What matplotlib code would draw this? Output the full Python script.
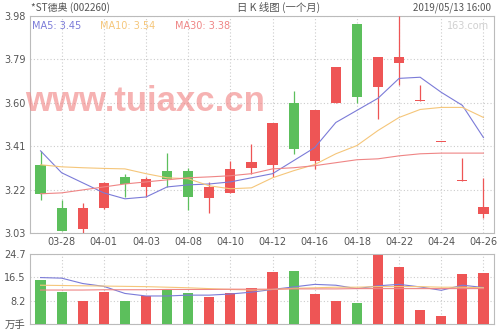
import matplotlib
matplotlib.use("Agg")
import matplotlib.pyplot as plt
import numpy as np

# === DATA ===
dates = ["03-27", "03-28", "03-29", "04-01", "04-02", "04-03", "04-04", "04-08",
         "04-09", "04-10", "04-11", "04-12", "04-15", "04-16", "04-17", "04-18",
         "04-19", "04-22", "04-23", "04-24", "04-25", "04-26"]

opens  = [3.33, 3.14, 3.05, 3.14, 3.275, 3.23, 3.30, 3.30, 3.185, 3.205, 3.315,
          3.33, 3.60, 3.345, 3.60, 3.945, 3.67, 3.775, 3.61, 3.43, 3.26, 3.115]
closes = [3.20, 3.04, 3.14, 3.25, 3.245, 3.265, 3.265, 3.19, 3.23, 3.31, 3.34,
          3.51, 3.40, 3.57, 3.755, 3.625, 3.80, 3.80, 3.61, 3.43, 3.26, 3.145]
highs  = [3.39, 3.175, 3.16, 3.255, 3.29, 3.275, 3.38, 3.315, 3.255, 3.345, 3.42,
          3.51, 3.65, 3.57, 3.755, 3.945, 3.80, 3.98, 3.68, 3.43, 3.36, 3.27]
lows   = [3.175, 3.04, 3.03, 3.135, 3.19, 3.19, 3.23, 3.13, 3.12, 3.205, 3.29,
          3.275, 3.375, 3.31, 3.60, 3.60, 3.53, 3.68, 3.61, 3.43, 3.26, 3.095]

ma5  = [3.39, 3.294, 3.25, 3.206, 3.18, 3.188, 3.232, 3.241, 3.245, 3.254, 3.272,
        3.29, 3.347, 3.404, 3.514, 3.567, 3.62, 3.707, 3.712, 3.646, 3.589, 3.448]
ma10 = [3.329, 3.32, 3.316, 3.313, 3.311, 3.29, 3.272, 3.268, 3.237, 3.224, 3.228,
        3.272, 3.303, 3.33, 3.377, 3.413, 3.479, 3.536, 3.571, 3.58, 3.58, 3.536]
ma30 = [3.202, 3.206, 3.219, 3.232, 3.245, 3.254, 3.263, 3.272, 3.276, 3.281, 3.29,
        3.311, 3.316, 3.325, 3.338, 3.351, 3.355, 3.368, 3.377, 3.38, 3.38, 3.38]

volumes = [15.7, 11.2, 8.0, 11.2, 8.2, 9.9, 12.5, 10.8, 9.5, 10.8, 12.6,
           18.2, 18.6, 10.6, 8.0, 7.3, 24.5, 20.3, 4.8, 2.8, 17.6, 18.0]
vol_ma5  = [16.4, 16.2, 14.3, 13.3, 10.8, 9.9, 9.9, 10.2, 10.2, 10.6, 11.25,
            12.2, 13.1, 14.0, 13.7, 12.5, 13.5, 14.0, 13.1, 11.9, 13.7, 12.9]
vol_ma10 = [13.7, 13.6, 13.5, 13.4, 13.3, 13.2, 13.0, 12.8, 12.5, 12.2, 12.0,
            12.2, 12.6, 12.8, 13.0, 13.0, 13.2, 13.2, 13.2, 13.0, 13.0, 12.8]
vol_ma30 = [12.0, 12.0, 12.0, 12.1, 12.1, 12.1, 12.2, 12.2, 12.2, 12.3, 12.3,
            12.3, 12.4, 12.4, 12.4, 12.5, 12.5, 12.5, 12.5, 12.5, 12.5, 12.5]

price_ticks = [3.03, 3.22, 3.41, 3.60, 3.79, 3.98]
vol_ticks = [0, 8.2, 16.5, 24.7]
vol_tick_labels = ["万手", "8.2", "16.5", "24.7"]

# === STYLE ===
RED = "#ee5555"
GREEN = "#5cbf5c"
C_MA5 = "#7b7bd8"
C_MA10 = "#f5c67a"
C_MA30 = "#ef8585"
BORDER = "#bbbbbb"
GRID = "#cccccc"
TXT = "#555555"
CJK = ["Noto Sans CJK SC", "DejaVu Sans"]

plt.rcParams["font.family"] = ["DejaVu Sans", "Noto Sans CJK SC"]

fig = plt.figure(figsize=(5, 3.33), dpi=100)
ax = fig.add_axes([0.06, 0.30, 0.928, 0.652])
axv = fig.add_axes([0.06, 0.027, 0.928, 0.21])

x = np.arange(len(dates))
up = np.array(closes) >= np.array(opens)
colors = [RED if u else GREEN for u in up]

# === CANDLES ===
ax.vlines(x, lows, highs, colors=colors, linewidth=0.9, zorder=3)
body_bottom = np.minimum(opens, closes)
body_h = np.maximum(np.abs(np.array(closes) - np.array(opens)), 0.004)
ax.bar(x, body_h, bottom=body_bottom, width=0.48, color=colors, zorder=4)

ax.plot(x, ma5, color=C_MA5, lw=0.8, zorder=5)
ax.plot(x, ma10, color=C_MA10, lw=0.8, zorder=5)
ax.plot(x, ma30, color=C_MA30, lw=0.8, zorder=5)

ax.set_xlim(-0.5, len(dates) - 0.5)
ax.set_ylim(price_ticks[0], price_ticks[-1])
ax.set_yticks(price_ticks)
ax.set_yticklabels([f"{t:.2f}" for t in price_ticks])
ax.set_xticks(x[1::2])
ax.set_xticklabels(dates[1::2])

# === VOLUME ===
axv.bar(x, volumes, width=0.48, color=colors, zorder=3)
axv.plot(x, vol_ma5, color=C_MA5, lw=0.8, zorder=4)
axv.plot(x, vol_ma10, color=C_MA10, lw=0.8, zorder=4)
axv.plot(x, vol_ma30, color=C_MA30, lw=0.8, zorder=4)
axv.set_xlim(-0.5, len(dates) - 0.5)
axv.set_ylim(0, vol_ticks[-1])
axv.set_yticks(vol_ticks)
axv.set_yticklabels(vol_tick_labels)
axv.set_xticks(x[1::2])
axv.set_xticklabels([])

for a in (ax, axv):
    for s in a.spines.values():
        s.set_color(BORDER)
        s.set_linewidth(0.8)
    a.tick_params(length=0, labelsize=7, colors=TXT, pad=3)
    a.grid(True, linestyle=(0, (1, 2)), color=GRID, linewidth=0.8, zorder=0)
    a.set_axisbelow(True)

axv.get_yticklabels()[0].set_fontfamily(CJK)
axv.get_yticklabels()[0].set_fontsize(7.5)

# === HEADER TEXT ===
fig.text(0.062, 0.978, "*ST德奥 (002260)", fontsize=7.2, color=TXT, family=CJK,
         ha="left", va="center")
fig.text(0.558, 0.978, "日 K 线图 (一个月)", fontsize=7.5, color=TXT, family=CJK,
         ha="center", va="center")
fig.text(0.982, 0.978, "2019/05/13 16:00", fontsize=7, color=TXT, family=CJK,
         ha="right", va="center")

ax.text(0.005, 0.975, "MA5: 3.45", transform=ax.transAxes, fontsize=7,
        color=C_MA5, ha="left", va="top")
ax.text(0.15, 0.975, "MA10: 3.54", transform=ax.transAxes, fontsize=7,
        color=C_MA10, ha="left", va="top")
ax.text(0.312, 0.975, "MA30: 3.38", transform=ax.transAxes, fontsize=7,
        color=C_MA30, ha="left", va="top")
ax.text(0.99, 0.975, "163.com", transform=ax.transAxes, fontsize=7,
        color="#d0d0d0", ha="right", va="top")

# watermark
fig.text(0.05, 0.695, "www.tuiaxc.cn", fontsize=25, fontweight="bold",
         family="Liberation Sans", color="#f08080", alpha=0.6,
         ha="left", va="center", zorder=10)

fig.savefig("out.png", dpi=100)
